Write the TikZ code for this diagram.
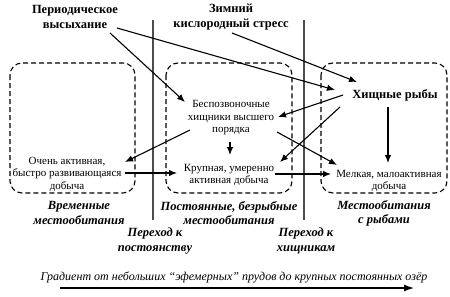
\documentclass[tikz,border=0pt]{standalone}
\usepackage{fontspec}
\setmainfont{Liberation Serif}
\usetikzlibrary{arrows.meta,calc}
\begin{document}
\begin{tikzpicture}[x=1pt,y=-1pt,
 txt/.style={font=\fontsize{11}{12.5}\selectfont, align=center, inner sep=1pt},
 ttl/.style={font=\fontsize{12.5}{15}\selectfont\bfseries, align=center, inner sep=1pt},
 hab/.style={font=\fontsize{12.5}{14.2}\selectfont\bfseries\itshape, align=center, inner sep=1pt},
 arr/.style={-{Latex[length=8pt,width=6.5pt]}, line width=1.1pt},
 zone/.style={draw, dash pattern=on 5pt off 3pt, rounded corners=12pt, line width=1.1pt},
 divider/.style={draw=black!70, line width=1.4pt}]
\useasboundingbox (0,0) rectangle (450,297);
% zones
\draw[zone] (10,63) rectangle (135,193);
\draw[zone] (166,63) rectangle (292,193);
\draw[zone] (321,63) rectangle (447,193);
% dividers
\draw[divider] (153,20) -- (153,220);
\draw[divider] (304,20) -- (304,220);
% nodes
\node[ttl] (dry) at (75,17) {Периодическое\\высыхание};
\node[ttl] (stress) at (231,17) {Зимний\\кислородный стресс};
\node[ttl] (fish) at (395,95) {Хищные рыбы};
\node[txt] (inv) at (231,118) {Беспозвоночные\\хищники высшего\\порядка};
\node[txt] (act) at (67,174) {Очень активная,\\быстро развивающаяся\\добыча};
\node[txt] (big) at (229,175) {Крупная, умеренно\\активная добыча};
\node[txt] (small) at (389,181) {Мелкая, малоактивная\\добыча};
\node[hab] (temp) at (79,213) {Временные\\местообитания};
\node[hab] (perm) at (229,213) {Постоянные, безрыбные\\местообитания};
\node[hab] (withfish) at (384,213) {Местообитания\\с рыбами};
\node[hab] (tperm) at (155,241) {Переход к\\постоянству};
\node[hab] (tpred) at (306,241) {Переход к\\хищникам};
\node[font=\fontsize{12}{14}\selectfont\itshape, inner sep=1pt] (grad) at (234,277) {Градиент от небольших “эфемерных” прудов до крупных постоянных озёр};
\coordinate (g0) at (60,288);
\coordinate (g1) at (414,288);
% arrows
\draw[arr] ($(dry)+(35,16)$) -- ($(inv)+(-46,-16)$);
\draw[arr] ($(dry)+(42,11)$) -- ($(fish)+(-60,-5)$);
\draw[arr] ($(stress)+(1,16)$) -- ($(fish)+(-38,-13)$);
\draw[arr] ($(fish)+(-52,0)$) -- ($(inv)+(47,-1)$);
\draw[arr] ($(fish)+(-55,12)$) -- ($(big)+(51,-13)$);
\draw[arr] ($(fish)+(-7,12)$) -- ($(small)+(-1,-18)$);
\draw[arr] ($(inv)+(-1,24)$) -- ($(big)+(1,-20)$);
\draw[arr] ($(inv)+(46,14)$) -- ($(small)+(-52,-16)$);
\draw[arr] ($(inv)+(-41,12)$) -- ($(act)+(58,-12)$);
\draw[arr] ($(act)+(58,-1)$) -- ($(big)+(-52,-2)$);
\draw[arr] ($(big)+(46,-1)$) -- ($(small)+(-58,-7)$);
\draw[-{Latex[length=10pt,width=7pt]}, line width=1.3pt] (g0) -- (g1);
\end{tikzpicture}
\end{document}
